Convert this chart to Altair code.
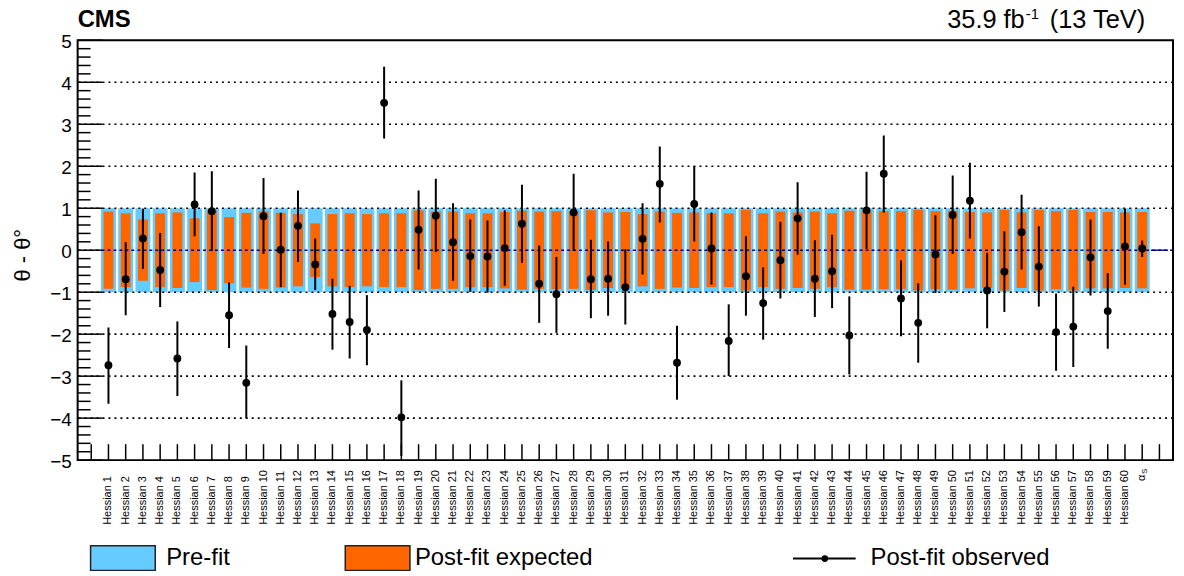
import altair as alt
import pandas as pd
import numpy as np

# ---------------- data ----------------
labels = [f"Hessian {i}" for i in range(1, 61)] + ["αS"]

observed = [-2.74, -0.69, 0.28, -0.47, -2.58, 1.09, 0.93, -1.55, -3.16, 0.81,
            0.01, 0.58, -0.34, -1.52, -1.71, -1.90, 3.51, -3.98, 0.49, 0.82,
            0.19, -0.14, -0.15, 0.05, 0.63, -0.80, -1.05, 0.90, -0.69, -0.68,
            -0.88, 0.27, 1.58, -2.68, 1.10, 0.04, -2.16, -0.62, -1.26, -0.24,
            0.76, -0.68, -0.50, -2.03, 0.95, 1.82, -1.15, -1.73, -0.10, 0.84,
            1.18, -0.96, -0.51, 0.43, -0.39, -1.95, -1.82, -0.17, -1.45, 0.09,
            0.04]
obs_low = [-3.66, -1.55, -0.45, -1.35, -3.47, 0.33, -0.02, -2.33, -4.00, -0.09,
           -0.88, -0.28, -0.95, -2.37, -2.58, -2.74, 2.66, -4.90, -0.46, -0.04,
           -0.73, -0.99, -1.01, -0.85, -0.30, -1.73, -1.97, -0.02, -1.62, -1.56,
           -1.77, -0.58, 0.66, -3.56, 0.21, -0.82, -3.00, -1.56, -2.13, -1.15,
           -0.11, -1.59, -1.38, -2.96, 0.03, 0.90, -2.05, -2.68, -1.02, -0.09,
           0.28, -1.86, -1.47, -0.46, -1.34, -2.87, -2.78, -1.08, -2.35, -0.82,
           -0.16]
obs_high = [-1.84, 0.19, 0.99, 0.41, -1.70, 1.85, 1.88, -0.77, -2.27, 1.72,
            0.89, 1.42, 0.28, -0.68, -0.85, -1.07, 4.37, -3.10, 1.42, 1.70,
            1.12, 0.73, 0.71, 0.95, 1.56, 0.11, -0.16, 1.82, 0.25, 0.21,
            0.02, 1.12, 2.47, -1.80, 2.00, 0.90, -1.29, 0.33, -0.41, 0.68,
            1.62, 0.24, 0.37, -1.10, 1.87, 2.73, -0.24, -0.79, 0.83, 1.78,
            2.08, -0.06, 0.45, 1.32, 0.57, -1.03, -0.87, 0.73, -0.55, 0.99,
            0.23]
postfit_expected = [0.92, 0.88, 0.73, 0.88, 0.90, 0.76, 0.95, 0.79, 0.89, 0.92,
                    0.89, 0.86, 0.64, 0.86, 0.88, 0.86, 0.88, 0.88, 0.95, 0.92,
                    0.92, 0.88, 0.88, 0.91, 0.94, 0.92, 0.93, 0.92, 0.95, 0.90,
                    0.91, 0.86, 0.92, 0.89, 0.90, 0.88, 0.88, 0.96, 0.88, 0.92,
                    0.90, 0.92, 0.88, 0.94, 0.94, 0.93, 0.93, 0.96, 0.93, 0.94,
                    0.91, 0.90, 0.96, 0.90, 0.96, 0.93, 0.96, 0.91, 0.91, 0.90,
                    0.91]
prefit = [1.0] * 61

grid_levels = [-4, -3, -2, -1, 1, 2, 3, 4]
ytick_values = [-5, -4, -3, -2, -1, 0, 1, 2, 3, 4, 5]
ytick_labels = ["−5", "−4", "−3", "−2", "−1", "0", "1", "2", "3", "4", "5"]

W, H = 1101, 422
FONT = "Liberation Sans"

df = pd.DataFrame({
    "label": labels,
    "pos": [i + 1.5 for i in range(len(labels))],
    "obs": observed,
    "lo": obs_low,
    "hi": obs_high,
    "exp": postfit_expected,
    "pre": prefit,
})

xscale = alt.Scale(domain=[0, 63], nice=False, zero=False)
yscale = alt.Scale(domain=[-5, 5], nice=False, zero=False)
X = alt.X("pos:Q", scale=xscale, axis=None)

base = alt.Chart(df)

blue = base.transform_calculate(pre_lo="-datum.pre").mark_bar(
    size=15, color="#66CCFF", orient="vertical"
).encode(x=X, y=alt.Y("pre_lo:Q", scale=yscale, axis=None), y2="pre:Q")

orange = base.transform_calculate(exp_lo="-datum.exp").mark_bar(
    size=10, color="#FF6600", orient="vertical"
).encode(x=X, y=alt.Y("exp_lo:Q", scale=yscale, axis=None), y2="exp:Q")

grid = alt.Chart(pd.DataFrame({"g": grid_levels})).mark_rule(
    color="black", strokeDash=[2, 4], strokeWidth=1.6
).encode(y=alt.Y("g:Q", scale=yscale, axis=None))

zero = alt.Chart(pd.DataFrame({"z": [0]})).mark_rule(
    color="#000080", strokeDash=[3, 3], strokeWidth=1.4
).encode(y=alt.Y("z:Q", scale=yscale, axis=None))

zero_tail = alt.Chart(pd.DataFrame({"z": [0], "a": [62.0], "b": [63.0]})).mark_rule(
    color="#000080", strokeWidth=1.4
).encode(x=alt.X("a:Q", scale=xscale, axis=None), x2="b:Q",
         y=alt.Y("z:Q", scale=yscale, axis=None))

errbars = base.mark_rule(color="black", strokeWidth=2, clip=True).encode(
    x=X, y=alt.Y("lo:Q", scale=yscale, axis=None), y2="hi:Q")

points = base.mark_circle(size=62, color="black", opacity=1).encode(
    x=X, y=alt.Y("obs:Q", scale=yscale, axis=None))

xticks = alt.Chart(pd.DataFrame({"t": [i + 0.5 for i in range(63)]})).mark_rule(
    color="black", strokeWidth=1.5
).encode(x=alt.X("t:Q", scale=xscale, axis=None), y=alt.value(H), y2=alt.value(H - 16))

ymajor = alt.Chart(pd.DataFrame({"v": ytick_values})).mark_rule(
    color="black", strokeWidth=1.5
).encode(y=alt.Y("v:Q", scale=yscale, axis=None), x=alt.value(0), x2=alt.value(25))

minor_vals = [round(v, 1) for v in np.arange(-5, 5.001, 0.2) if abs(v - round(v)) > 1e-6]
yminor = alt.Chart(pd.DataFrame({"v": minor_vals})).mark_rule(
    color="black", strokeWidth=1.5
).encode(y=alt.Y("v:Q", scale=yscale, axis=None), x=alt.value(0), x2=alt.value(13))

ylabels = alt.Chart(pd.DataFrame({"v": ytick_values, "t": ytick_labels})).mark_text(
    align="right", baseline="middle", fontSize=19, font=FONT, color="black", dy=2
).encode(y=alt.Y("v:Q", scale=yscale, axis=None), x=alt.value(-6), text="t:N")

xlabels = base.transform_filter("datum.pos < 61").mark_text(
    angle=270, align="left", baseline="middle", fontSize=11, font=FONT, color="black"
).encode(x=X, y=alt.value(487), text="label:N")

alpha_main = base.transform_filter("datum.pos > 61").mark_text(
    angle=270, align="left", baseline="middle", fontSize=11, font=FONT, color="black"
).encode(x=X, y=alt.value(443), text=alt.value("α"))
alpha_sub = base.transform_filter("datum.pos > 61").mark_text(
    angle=270, align="left", baseline="middle", fontSize=8, font=FONT, color="black",
    dx=7, dy=3
).encode(x=X, y=alt.value(443), text=alt.value("S"))

one = pd.DataFrame({"a": [0]})
ytitle = alt.Chart(one).mark_text(
    angle=270, align="center", baseline="middle", fontSize=22, font=FONT, color="black"
).encode(x=alt.value(-55), y=alt.value(216), text=alt.value("θ - θ°"))

cms = alt.Chart(one).mark_text(
    align="left", baseline="alphabetic", fontSize=24, fontWeight="bold", font=FONT, color="black"
).encode(x=alt.value(0), y=alt.value(-13), text=alt.value("CMS"))

lumi1 = alt.Chart(one).mark_text(
    align="left", baseline="alphabetic", fontSize=25.5, font=FONT, color="black"
).encode(x=alt.value(874), y=alt.value(-12), text=alt.value("35.9 fb"))
lumi2 = alt.Chart(one).mark_text(
    align="left", baseline="alphabetic", fontSize=15, font=FONT, color="black"
).encode(x=alt.value(953), y=alt.value(-21), text=alt.value("-1"))
lumi3 = alt.Chart(one).mark_text(
    align="right", baseline="alphabetic", fontSize=25.5, font=FONT, color="black"
).encode(x=alt.value(1073), y=alt.value(-12), text=alt.value("(13 TeV)"))

leg_blue = alt.Chart(one).mark_rect(color="#66CCFF", stroke="#222222", strokeWidth=1.5).encode(
    x=alt.value(13), x2=alt.value(78), y=alt.value(508), y2=alt.value(533))
leg_orange = alt.Chart(one).mark_rect(color="#FF6600", stroke="#222222", strokeWidth=1.5).encode(
    x=alt.value(269), x2=alt.value(334), y=alt.value(508), y2=alt.value(533))
leg_line = alt.Chart(one).mark_rule(color="black", strokeWidth=2).encode(
    x=alt.value(719), x2=alt.value(782), y=alt.value(521))
leg_dot = alt.Chart(one).mark_circle(size=45, color="black", opacity=1).encode(
    x=alt.value(751), y=alt.value(521))
leg_t1 = alt.Chart(one).mark_text(align="left", baseline="alphabetic", fontSize=24, font=FONT, color="black").encode(
    x=alt.value(89), y=alt.value(527), text=alt.value("Pre-fit"))
leg_t2 = alt.Chart(one).mark_text(align="left", baseline="alphabetic", fontSize=24, font=FONT, color="black").encode(
    x=alt.value(339), y=alt.value(527), text=alt.value("Post-fit expected"))
leg_t3 = alt.Chart(one).mark_text(align="left", baseline="alphabetic", fontSize=24, font=FONT, color="black").encode(
    x=alt.value(797), y=alt.value(527), text=alt.value("Post-fit observed"))

chart = alt.layer(
    blue, orange, grid, zero, zero_tail, errbars, points,
    xticks, ymajor, yminor, ylabels, xlabels, alpha_main, alpha_sub,
    ytitle, cms, lumi1, lumi2, lumi3,
    leg_blue, leg_orange, leg_line, leg_dot, leg_t1, leg_t2, leg_t3,
).properties(
    width=W, height=H,
    padding={"left": 70, "top": 31, "right": 3, "bottom": 110},
    autosize=alt.AutoSizeParams(type="none"),
).configure_view(stroke="black", strokeWidth=2)

chart.save("out.html", embed_options={"renderer": "svg", "actions": False})
